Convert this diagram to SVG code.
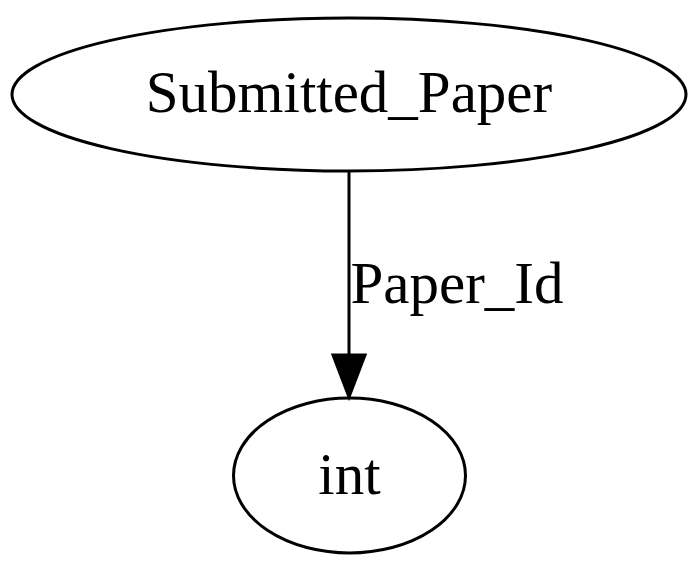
<svg xmlns="http://www.w3.org/2000/svg" width="700" height="571" viewBox="0 0 700 571">
<style>
.node ellipse{fill:none;stroke:#000;stroke-width:3}
text{font-family:"Liberation Serif","Times New Roman",serif;font-size:59px;fill:#000;text-anchor:middle}
.edge line{stroke:#000;stroke-width:3}
.edge polygon{fill:#000;stroke:#000;stroke-width:3}
</style>
<rect width="700" height="571" fill="#fff"/>
<g id="node_submitted_paper" class="node">
<ellipse cx="349" cy="94.5" rx="337" ry="76.5"/>
<text x="349" y="112">Submitted_Paper</text>
</g>
<g id="node_int" class="node">
<ellipse cx="349.5" cy="475.5" rx="116" ry="77.5"/>
<text x="349.5" y="494">int</text>
</g>
<g id="connectors" class="edge">
<line x1="349" y1="171" x2="349" y2="355"/>
<polygon points="349,397 333,355 365,355"/>
<text x="457" y="303">Paper_Id</text>
</g>
</svg>
